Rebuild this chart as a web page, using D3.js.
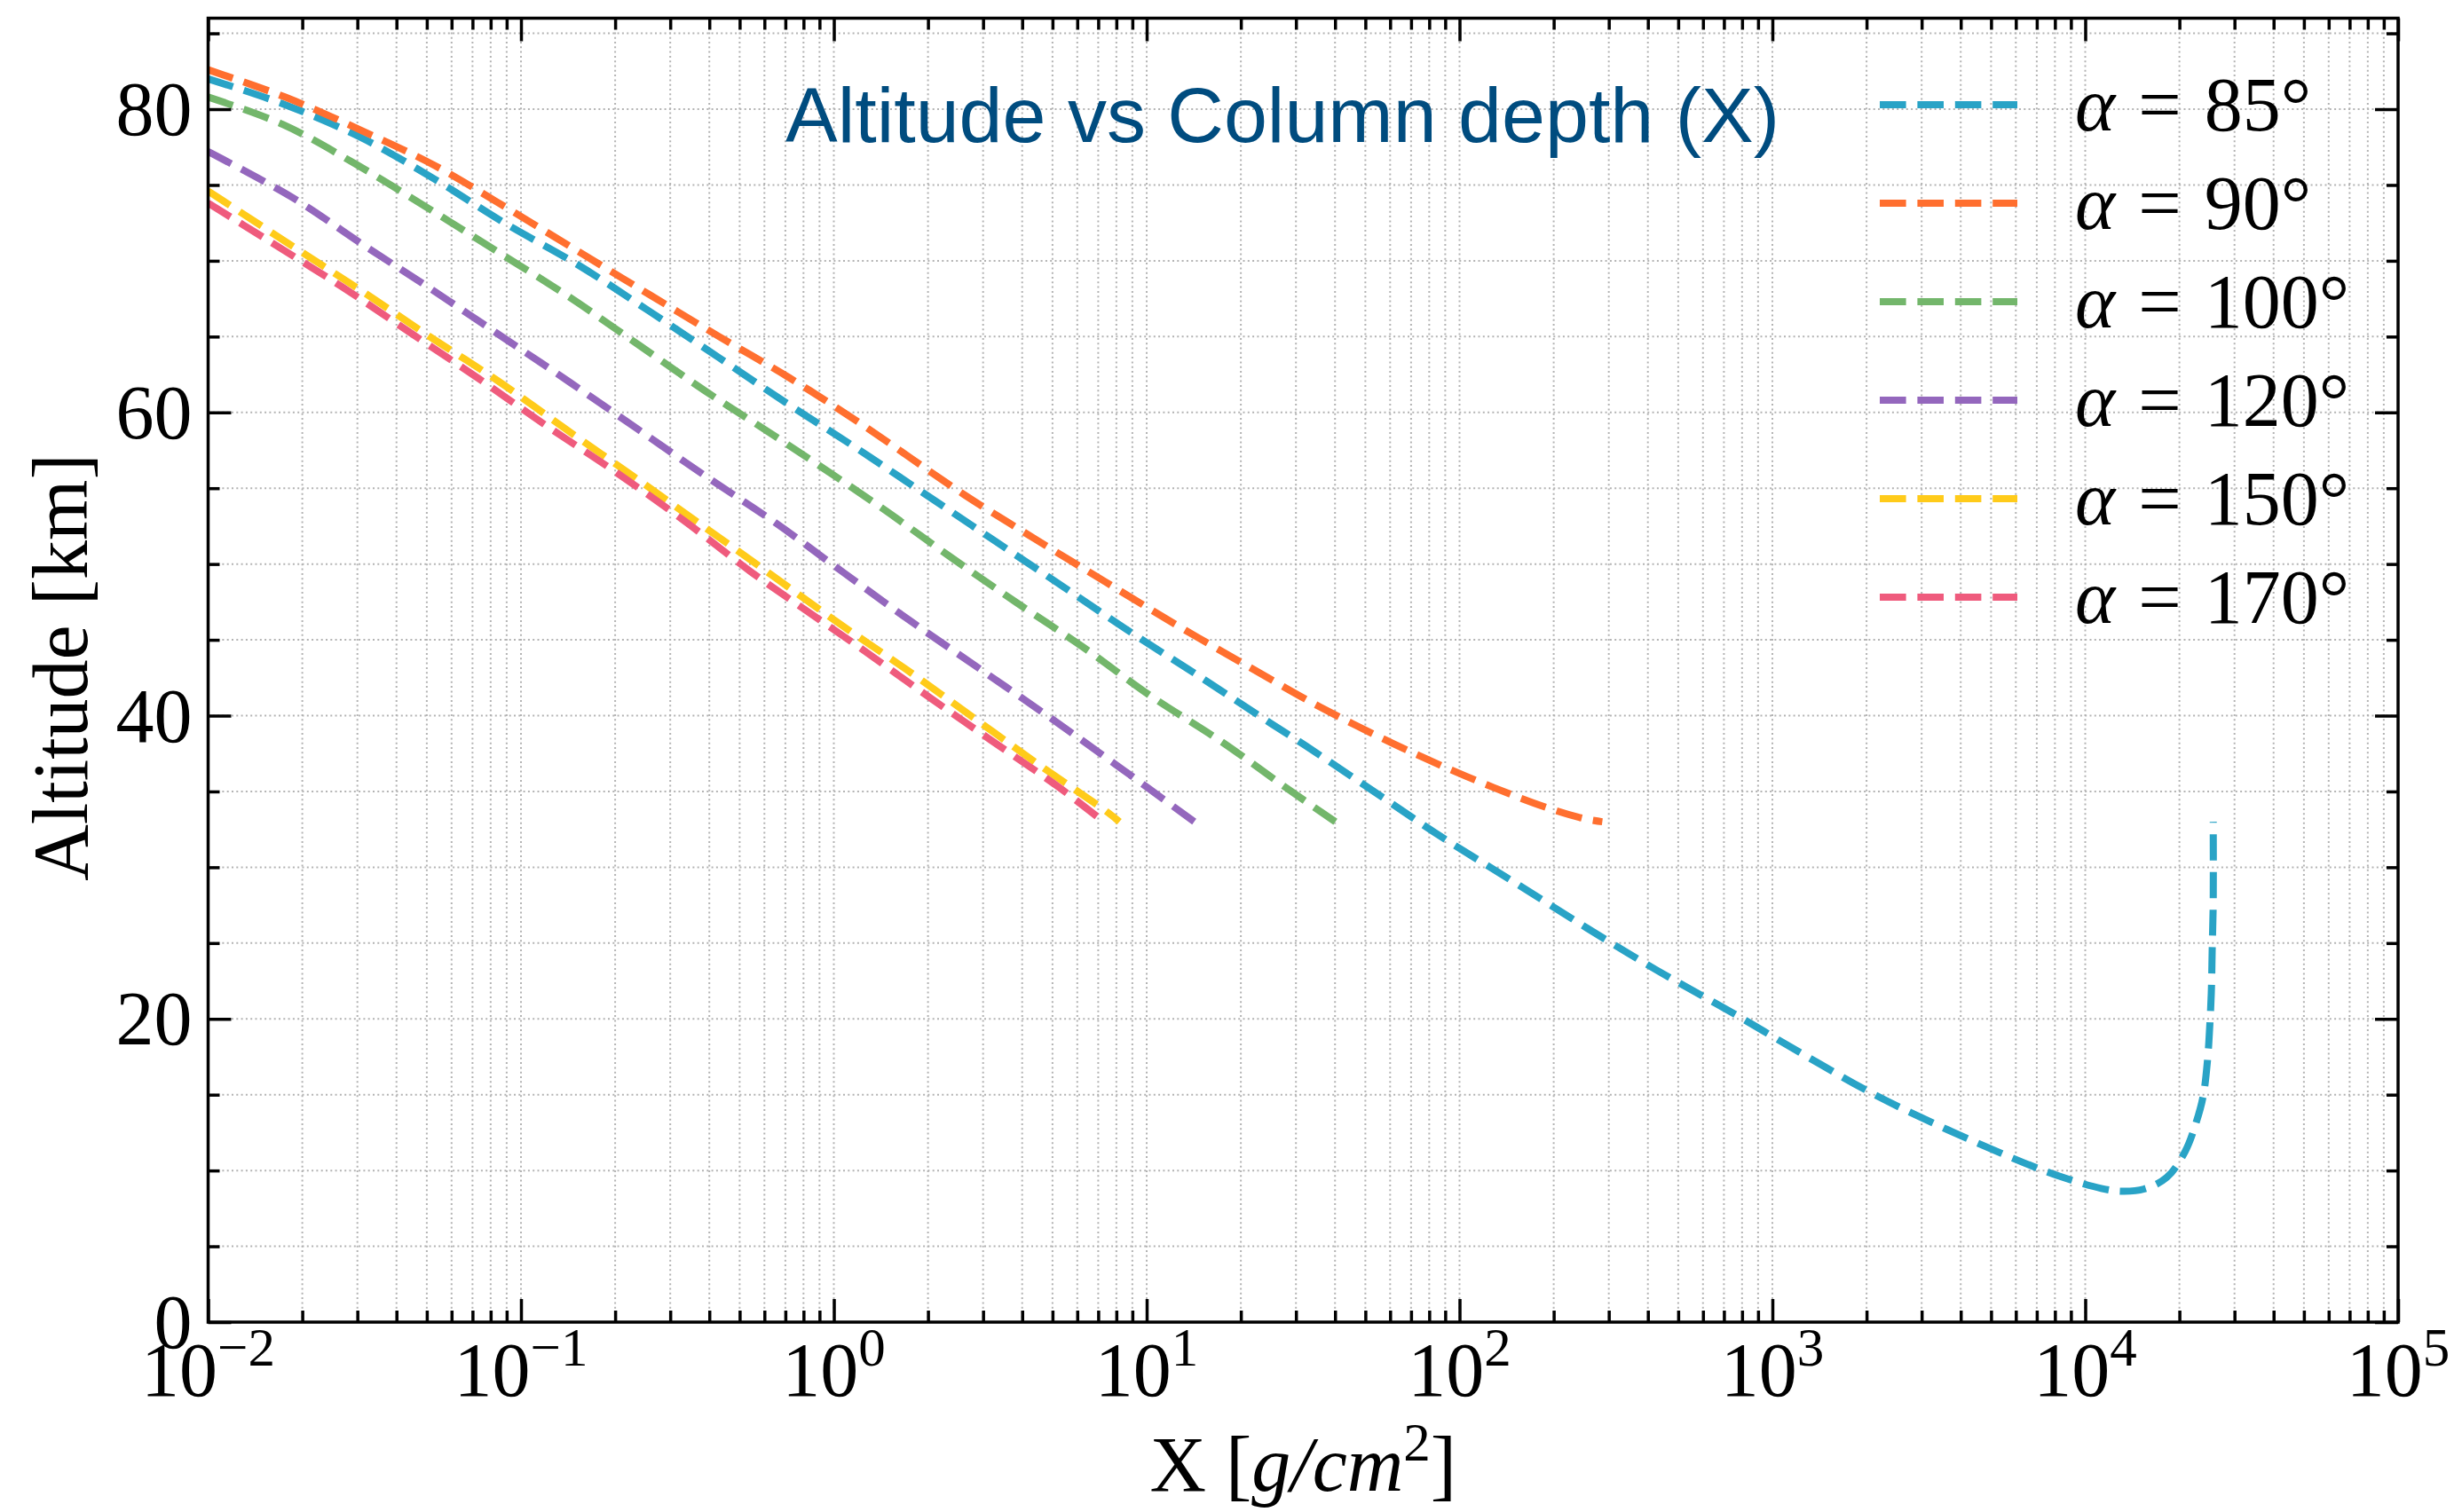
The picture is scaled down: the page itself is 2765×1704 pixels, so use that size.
<!DOCTYPE html>
<html>
<head>
<meta charset="utf-8">
<script src="https://cdn.jsdelivr.net/npm/d3@7"></script>
<style>
  body { margin: 0; background: #fff; }
  svg { display: block; }
</style>
</head>
<body>
<div id="chart"></div>
<script>
// values
const angles = ['85', '90', '100', '120', '150', '170'];
const colors = ['#29a3c6', '#ff6f2f', '#73b66b', '#9467bd', '#ffcb1a', '#ef5b7d'];

const x85 = [0.01, 0.0176, 0.031, 0.0528, 0.0885, 0.153, 0.256, 0.43, 0.708, 1.17, 1.93, 3.23, 5.41, 8.89, 14.7, 24.9, 32.3, 54.1, 89.1, 150, 255, 428, 731, 1245, 2123, 3622, 6383, 8472, 11250, 13060, 15420, 18240, 20850, 22650, 23820, 24600, 25000, 25290, 25470, 25650, 25650];
const alt85 = [82.0, 80.3, 78.1, 75.4, 72.5, 69.7, 66.7, 63.6, 60.6, 57.7, 54.7, 51.6, 48.5, 45.5, 42.6, 39.5, 38.0, 34.9, 31.9, 29.0, 26.0, 23.2, 20.5, 17.7, 15.0, 12.7, 10.5, 9.55, 8.82, 8.63, 8.78, 9.55, 11.25, 13.2, 14.9, 17.3, 19.5, 21.7, 24.8, 27.7, 33.0];

const x90 = [0.01, 0.0176, 0.0305, 0.0528, 0.0899, 0.153, 0.256, 0.43, 0.719, 1.21, 2.6, 4.36, 7.41, 12.4, 20.9, 35.6, 60.8, 105, 186, 251, 286];
const alt90 = [82.6, 80.8, 78.65, 76.3, 73.5, 70.6, 67.8, 65.0, 62.3, 59.3, 54.6, 51.7, 48.8, 46.0, 43.3, 40.6, 38.2, 36.0, 34.0, 33.2, 33.0];

const x100 = [0.01, 0.0173, 0.0295, 0.0502, 0.0841, 0.143, 0.236, 0.389, 0.652, 1.4, 2.31, 3.81, 6.28, 10.3, 17.3, 28.1, 40.1];
const alt100 = [80.8, 79.0, 76.4, 73.5, 70.6, 67.6, 64.5, 61.4, 58.4, 53.8, 50.6, 47.5, 44.5, 41.3, 38.3, 35.2, 33.0];

const x120 = [0.01, 0.0185, 0.0316, 0.0519, 0.0869, 0.143, 0.236, 0.389, 0.653, 1.08, 1.77, 2.92, 4.81, 7.93, 14.2];
const alt120 = [77.2, 74.2, 71.0, 68.1, 65.0, 62.0, 58.9, 55.8, 52.7, 49.4, 46.2, 43.1, 40.0, 36.8, 33.0];

const x150 = [0.01, 0.0185, 0.0305, 0.0511, 0.0841, 0.139, 0.228, 0.376, 0.621, 1.02, 1.69, 2.78, 4.57, 7.53, 8.18];
const alt150 = [74.6, 71.0, 68.1, 65.0, 62.1, 58.9, 55.8, 52.6, 49.4, 46.2, 43.1, 39.9, 36.7, 33.6, 33.0];

const x170 = [0.01, 0.0154, 0.0267, 0.0447, 0.0736, 0.121, 0.203, 0.335, 0.542, 0.698, 1.17, 1.93, 3.17, 5.22, 7.29];
const alt170 = [73.8, 71.4, 68.3, 65.2, 62.2, 59.1, 56.0, 52.8, 49.5, 47.9, 44.7, 41.5, 38.4, 35.3, 33.0];

const xTicks = [1e-2, 1e-1, 1e0, 1e1, 1e2, 1e3, 1e4, 1e5];
const xExps = ['\u22122', '\u22121', '0', '1', '2', '3', '4', '5'];
const yTicks = [0, 20, 40, 60, 80];

const xsAll = [x85, x90, x100, x120, x150, x170];
const altsAll = [alt85, alt90, alt100, alt120, alt150, alt170];

const
  width = 2765,
  height = 1704,
  plotL = 234.5,
  plotR = 2702,
  plotT = 20.5,
  plotB = 1490,
  serif = '"Liberation Serif", "DejaVu Serif", serif',
  sans = '"Liberation Sans", Arial, sans-serif',
  majorLen = 26,
  minorLen = 13
  ;

const x = d3.scaleLog().domain([1e-2, 1e5]).range([plotL, plotR]);
const y = d3.scaleLinear().domain([0, 86]).range([plotB, plotT]);

// minor positions: 2..9 per decade for x, every 5 for y
let xMinor = [];
for (let k = -2; k < 5; k++) {
  for (let m = 2; m < 10; m++) xMinor.push(m * Math.pow(10, k));
}
let yMinor = d3.range(0, 86, 5).filter(v => v % 20 !== 0);

const svg = d3.select('#chart')
  .append('svg')
  .attr('xmlns', 'http://www.w3.org/2000/svg')
  .attr('width', width)
  .attr('height', height);

svg.append('defs').append('clipPath')
  .attr('id', 'plotclip')
  .append('rect')
  .attr('x', plotL).attr('y', plotT)
  .attr('width', plotR - plotL).attr('height', plotB - plotT);

// grid
const grid = svg.append('g').attr('id', 'grid')
  .attr('stroke', '#b3b3b3')
  .attr('stroke-width', 2)
  .attr('stroke-dasharray', '2,3.3');

grid.selectAll('line.gx')
  .data(xTicks.concat(xMinor))
  .join('line')
  .attr('class', 'gx')
  .attr('x1', d => x(d)).attr('x2', d => x(d))
  .attr('y1', plotT).attr('y2', plotB);

grid.selectAll('line.gy')
  .data(yTicks.concat(yMinor))
  .join('line')
  .attr('class', 'gy')
  .attr('x1', plotL).attr('x2', plotR)
  .attr('y1', d => y(d)).attr('y2', d => y(d));

// curves
const line = d3.line()
  .x(d => x(d[0]))
  .y(d => y(d[1]))
  .curve(d3.curveCatmullRom.alpha(0.5));

const series = angles.map((a, i) => ({
  label: a,
  color: colors[i],
  pts: d3.zip(xsAll[i], altsAll[i])
}));

svg.append('g')
  .attr('id', 'curves')
  .attr('clip-path', 'url(#plotclip)')
  .selectAll('path')
  .data(series)
  .join('path')
  .attr('fill', 'none')
  .attr('stroke', d => d.color)
  .attr('stroke-width', 8)
  .attr('stroke-dasharray', '29.6,12.8')
  .attr('d', d => line(d.pts));

// axes, ticks pointing inward
const axisStyle = g => {
  g.select('.domain').remove();
  g.selectAll('.tick line').attr('stroke', '#000').attr('stroke-width', 3.5);
  g.selectAll('.tick text').remove();
};

svg.append('g').attr('transform', `translate(0,${plotB})`)
  .call(d3.axisBottom(x).tickValues(xTicks).tickSize(-majorLen).tickFormat(''))
  .call(axisStyle);
svg.append('g').attr('transform', `translate(0,${plotB})`)
  .call(d3.axisBottom(x).tickValues(xMinor).tickSize(-minorLen).tickFormat(''))
  .call(axisStyle);
svg.append('g').attr('transform', `translate(0,${plotT})`)
  .call(d3.axisTop(x).tickValues(xTicks).tickSize(-majorLen).tickFormat(''))
  .call(axisStyle);
svg.append('g').attr('transform', `translate(0,${plotT})`)
  .call(d3.axisTop(x).tickValues(xMinor).tickSize(-minorLen).tickFormat(''))
  .call(axisStyle);
svg.append('g').attr('transform', `translate(${plotL},0)`)
  .call(d3.axisLeft(y).tickValues(yTicks).tickSize(-majorLen).tickFormat(''))
  .call(axisStyle);
svg.append('g').attr('transform', `translate(${plotL},0)`)
  .call(d3.axisLeft(y).tickValues(yMinor).tickSize(-minorLen).tickFormat(''))
  .call(axisStyle);
svg.append('g').attr('transform', `translate(${plotR},0)`)
  .call(d3.axisRight(y).tickValues(yTicks).tickSize(-majorLen).tickFormat(''))
  .call(axisStyle);
svg.append('g').attr('transform', `translate(${plotR},0)`)
  .call(d3.axisRight(y).tickValues(yMinor).tickSize(-minorLen).tickFormat(''))
  .call(axisStyle);

// frame
svg.append('rect')
  .attr('x', plotL).attr('y', plotT)
  .attr('width', plotR - plotL).attr('height', plotB - plotT)
  .attr('fill', 'none')
  .attr('stroke', '#000')
  .attr('stroke-width', 3.5);

// tick labels
svg.append('g')
  .attr('id', 'yLabels')
  .selectAll('text')
  .data(yTicks)
  .join('text')
  .attr('x', plotL - 18)
  .attr('y', d => y(d))
  .attr('dy', '0.34em')
  .attr('text-anchor', 'end')
  .style('font-family', serif)
  .style('font-size', '86px')
  .text(d => d);

const xl = svg.append('g')
  .attr('id', 'xLabels')
  .selectAll('text')
  .data(xTicks)
  .join('text')
  .attr('x', d => x(d))
  .attr('y', 1573)
  .attr('text-anchor', 'middle')
  .style('font-family', serif)
  .style('font-size', '86px');
xl.append('tspan').text('10');
xl.append('tspan')
  .attr('dy', -34)
  .style('font-size', '61px')
  .text((d, i) => xExps[i]);

// axis titles
const xt = svg.append('text')
  .attr('x', (plotL + plotR) / 2)
  .attr('y', 1680)
  .attr('text-anchor', 'middle')
  .style('font-family', serif)
  .style('font-size', '88px');
xt.append('tspan').text('X [');
xt.append('tspan').style('font-style', 'italic').text('g/cm');
xt.append('tspan').attr('dy', -34).style('font-size', '61px').text('2');
xt.append('tspan').attr('dy', 34).text(']');

svg.append('text')
  .attr('transform', `translate(98,${752}) rotate(-90)`)
  .attr('text-anchor', 'middle')
  .style('font-family', serif)
  .style('font-size', '88px')
  .text('Altitude [km]');

// title inside the axes
svg.append('text')
  .attr('x', 1445)
  .attr('y', 160)
  .attr('text-anchor', 'middle')
  .style('font-family', sans)
  .style('font-size', '88px')
  .style('fill', '#004c7f')
  .text('Altitude vs Column depth (X)');

// legend
const legend = svg.append('g').attr('id', 'legend');
const rowY = d3.scaleLinear().domain([0, 1]).range([118, 229]);
const item = legend.selectAll('g')
  .data(series)
  .join('g')
  .attr('transform', (d, i) => `translate(0,${rowY(i)})`);
item.append('line')
  .attr('x1', 2118).attr('x2', 2273)
  .attr('y1', 0).attr('y2', 0)
  .attr('stroke', d => d.color)
  .attr('stroke-width', 8)
  .attr('stroke-dasharray', '29.6,12.8');
const lt = item.append('text')
  .attr('x', 2338)
  .attr('y', 29)
  .style('font-family', serif)
  .style('font-size', '86px');
lt.append('tspan').style('font-style', 'italic').text('\u03b1');
lt.append('tspan').attr('dx', 26).text('=');
lt.append('tspan').attr('dx', 26).text(d => `${d.label}\u00b0`);
</script>
</body>
</html>
